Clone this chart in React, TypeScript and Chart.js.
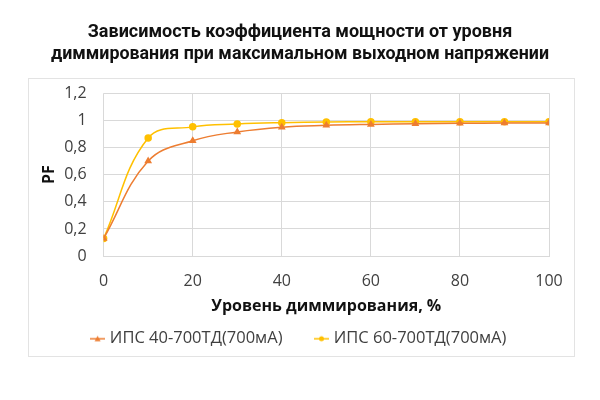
import { useEffect, useRef } from 'react';
import { Chart, registerables } from 'chart.js';

Chart.register(...registerables);

const titleLines = [
  'Зависимость коэффициента мощности от уровня',
  'диммирования при максимальном выходном напряжении',
];
const xAxisTitle = 'Уровень диммирования, %';
const yAxisTitle = 'PF';

const dimmingLevels = [0, 10, 20, 30, 40, 50, 60, 70, 80, 90, 100];
const seriesNames = ['ИПС 40-700ТД(700мА)', 'ИПС 60-700ТД(700мА)'];
const pf40 = [0.13, 0.7, 0.85, 0.915, 0.95, 0.963, 0.97, 0.975, 0.978, 0.98, 0.98];
const pf60 = [0.13, 0.87, 0.952, 0.973, 0.983, 0.988, 0.99, 0.99, 0.99, 0.99, 0.99];

const ORANGE = '#ED7D31';
const YELLOW = '#FFC000';

function legendIcon(color: string, shape: 'triangle' | 'circle') {
  const c = document.createElement('canvas');
  c.width = 15;
  c.height = 10;
  const g = c.getContext('2d')!;
  g.strokeStyle = color;
  g.lineWidth = 1.5;
  g.beginPath();
  g.moveTo(0, 5);
  g.lineTo(15, 5);
  g.stroke();
  g.fillStyle = color;
  g.beginPath();
  if (shape === 'triangle') {
    g.moveTo(7.5, 2);
    g.lineTo(10.5, 7.5);
    g.lineTo(4.5, 7.5);
    g.closePath();
  } else {
    g.arc(7.5, 5, 2.5, 0, Math.PI * 2);
  }
  g.fill();
  return c;
}

const frame = {
  id: 'frame',
  beforeDraw(chart: Chart) {
    const ctx = chart.ctx;
    ctx.save();
    ctx.fillStyle = '#ffffff';
    ctx.fillRect(0, 0, chart.width, chart.height);
    ctx.strokeStyle = '#e3e3e3';
    ctx.lineWidth = 1;
    ctx.strokeRect(28.5, 78.5, 546, 278);
    ctx.restore();
  },
};

export default function App() {
  const chartRef = useRef<HTMLCanvasElement>(null);

  useEffect(() => {
    if (!chartRef.current) return;
    const icons = [legendIcon(ORANGE, 'triangle'), legendIcon(YELLOW, 'circle')];

    const chart = new Chart(chartRef.current, {
      type: 'line',
      data: {
        datasets: [
          {
            label: seriesNames[0],
            data: dimmingLevels.map((x, i) => ({ x, y: pf40[i] })),
            borderColor: ORANGE,
            backgroundColor: ORANGE,
            borderWidth: 1.5,
            pointStyle: 'triangle',
            pointRadius: 3,
            tension: 0.4,
          },
          {
            label: seriesNames[1],
            data: dimmingLevels.map((x, i) => ({ x, y: pf60[i] })),
            borderColor: YELLOW,
            backgroundColor: YELLOW,
            borderWidth: 1.5,
            pointStyle: 'circle',
            pointRadius: 3,
            tension: 0.4,
          },
        ],
      },
      options: {
        responsive: false,
        animation: false,
        layout: { padding: { top: 22, left: 51, right: 51, bottom: 43 } },
        plugins: {
          title: {
            display: true,
            text: titleLines,
            color: '#111',
            font: { family: 'Roboto', weight: 'bold', size: 18, lineHeight: 1.2 },
            padding: { top: 0, bottom: 28 },
          },
          legend: {
            position: 'bottom',
            labels: {
              color: '#404040',
              font: { family: 'Open Sans', size: 16.5 },
              usePointStyle: true,
              pointStyleWidth: 8,
              padding: 35,
              generateLabels: (ch) =>
                ch.data.datasets.map((ds, i) => ({
                  text: ds.label as string,
                  pointStyle: icons[i],
                  fillStyle: ds.borderColor as string,
                  strokeStyle: ds.borderColor as string,
                  lineWidth: 0,
                  fontColor: '#404040',
                  hidden: false,
                  datasetIndex: i,
                })),
            },
          },
          tooltip: { enabled: false },
        },
        scales: {
          x: {
            type: 'linear',
            min: 0,
            max: 100,
            ticks: {
              stepSize: 20,
              color: '#404040',
              font: { family: 'Open Sans', size: 16 },
              padding: 16,
            },
            grid: { color: '#d9d9d9', drawTicks: false },
            border: { color: '#d9d9d9' },
            title: {
              display: true,
              text: xAxisTitle,
              color: '#111',
              font: { family: 'Open Sans', weight: 'bold', size: 16 },
              padding: { top: -10, bottom: -21 },
            },
          },
          y: {
            min: 0,
            max: 1.2,
            ticks: {
              stepSize: 0.2,
              color: '#404040',
              font: { family: 'Open Sans', size: 16 },
              padding: 17,
              callback: (v) => String(Math.round(Number(v) * 10) / 10).replace('.', ','),
            },
            grid: { color: '#d9d9d9', drawTicks: false },
            border: { display: false },
            title: {
              display: true,
              text: yAxisTitle,
              color: '#111',
              font: { family: 'Open Sans', weight: 'bold', size: 16 },
              padding: { top: -11, bottom: -12 },
            },
          },
        },
      },
      plugins: [frame],
    });

    return () => chart.destroy();
  }, []);

  return (
    <div style={{ width: 600, height: 400, margin: -8 }}>
      <canvas ref={chartRef} width={600} height={400} />
    </div>
  );
}
